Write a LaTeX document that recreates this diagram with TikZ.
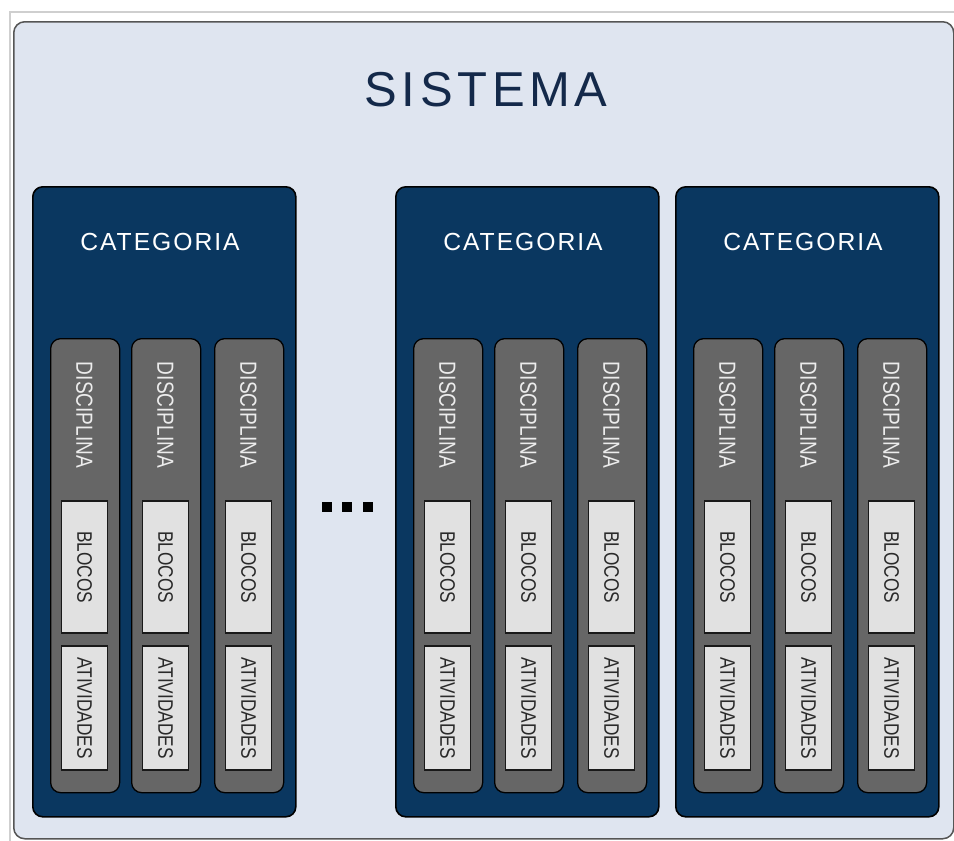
\documentclass[tikz,border=0pt]{standalone}
\usepackage{fontspec}
\setmainfont{Liberation Sans}
\newfontfamily\sysfont[LetterSpace=9.5]{Liberation Sans}
\newfontfamily\catfont[LetterSpace=8]{Liberation Sans}
\newfontfamily\narrowfont[FakeStretch=0.82]{Liberation Sans}
\usepackage{tikz}
\usetikzlibrary{positioning}

\definecolor{framegray}{HTML}{CFCFCF}
\definecolor{sysfill}{HTML}{DFE5F0}
\definecolor{sysline}{HTML}{555555}
\definecolor{systext}{HTML}{14294A}
\definecolor{catfill}{HTML}{0A3760}
\definecolor{colfill}{HTML}{666666}
\definecolor{coltext}{HTML}{ECECEC}
\definecolor{blockfill}{HTML}{E1E1E1}
\definecolor{blocktext}{HTML}{2A2A2A}

\begin{document}
\begin{tikzpicture}[x=1pt, y=-1pt,
	sysbox/.style = {draw=sysline, line width=1.5pt, fill=sysfill,
		rounded corners=11pt, minimum width=940pt, minimum height=817pt,
		anchor=north west, inner sep=0pt},
	catbox/.style = {draw=black, line width=1.6pt, fill=catfill,
		rounded corners=10pt, minimum width=263pt, minimum height=630pt,
		anchor=north west, inner sep=0pt},
	colbox/.style = {draw=black, line width=1.3pt, fill=colfill,
		rounded corners=10pt, minimum width=69pt, minimum height=454pt,
		anchor=north west, inner sep=0pt},
	blockbox/.style = {draw=black!90, line width=1.6pt, fill=blockfill,
		rotate=-90, minimum height=46pt, inner sep=0pt,
		text=blocktext, font=\narrowfont\fontsize{21}{21}\selectfont},
	coltext/.style = {rotate=-90, text=coltext, inner sep=0pt,
		font=\narrowfont\fontsize{23.3}{23.3}\selectfont},
	cattext/.style = {text=white, inner sep=0pt,
		font=\catfont\fontsize{24.7}{24.7}\selectfont},
	dotsq/.style = {fill=black, minimum size=10pt, inner sep=0pt}
	]
	\useasboundingbox (0,0) rectangle (954,841);
	\draw [framegray, line width=2pt] (9.5,850) -- (9.5,11.5) -- (960,11.5);
	\node (sys) [sysbox] at (13,21) {};
	\node (systitle) [text=systext, inner sep=0pt,
	font=\sysfont\fontsize{49}{49}\selectfont] at (486,90) {SISTEMA};
	% categorias
	\foreach \c/\cx in {1/32, 2/395, 3/675} {
		\node (c\c) [catbox] at (\cx,186) {};
		\node (c\c t) [cattext] at (\cx+128,242) {CATEGORIA};
		\foreach \d/\dx in {1/18, 2/99, 3/182} {
			\node (c\c d\d) [colbox] at (\cx+\dx,338) {};
			\node (c\c d\d t) [coltext] at (\cx+\dx+34.5,415) {DISCIPLINA};
			\node (c\c b\d) [blockbox, minimum width=132pt]
			at (\cx+\dx+34.5,567) {BLOCOS};
			\node (c\c a\d) [blockbox, minimum width=124pt]
			at (\cx+\dx+34.5,708) {ATIVIDADES};
		}
	}
	% reticencias
	\node (dot1) [dotsq] at (327,507) {};
	\node (dot2) [dotsq, right=10pt of dot1] {};
	\node (dot3) [dotsq, right=10pt of dot2] {};
\end{tikzpicture}
\end{document}
